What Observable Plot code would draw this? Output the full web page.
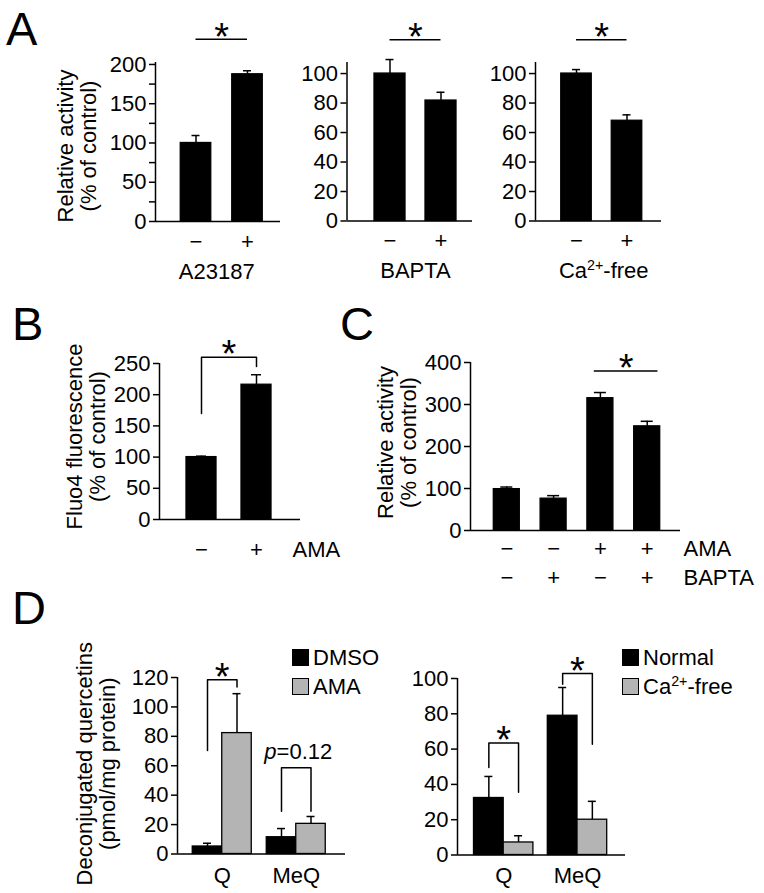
<!DOCTYPE html>
<html><head><meta charset="utf-8">
<script src="https://cdn.jsdelivr.net/npm/d3@7"></script>
<script src="https://cdn.jsdelivr.net/npm/@observablehq/plot@0.6"></script>
<style>
body{margin:0;background:#fff}
#fig{position:relative;width:764px;height:893px;background:#fff;font-family:"Liberation Sans",Arial,Helvetica,sans-serif;color:#000;overflow:hidden}
.letter{position:absolute;font-size:47px;line-height:1}
.leg{position:absolute;font-size:22px;line-height:1;display:flex;align-items:center;white-space:nowrap;height:17px}
.sw{width:17px;height:17px;box-sizing:border-box;border:1.4px solid #000;margin-right:4px;flex:none}
sup{font-size:65%;vertical-align:0.55em;line-height:0}
</style></head><body><div id="fig"></div>
<script>
// ---------------- data ----------------
const GRAY = "#b4b4b4";
// Panel A
const aTitles = ["A23187", "BAPTA", "Ca2+-free"];
const aSigns = ["−", "+"];
const aMeans = [[100, 187.5], [100, 81.7], [100, 68]];
const aSE = [[9.5, 4.5], [9.5, 5.6], [2.7, 4]];
const aSigY = [232, 123, 123];
const aTicks = [[0, 25, 50, 75, 100, 125, 150, 175, 200], [0, 20, 40, 60, 80, 100], [0, 20, 40, 60, 80, 100]];
const aYMax = [202.5, 107.5, 107.5];
// Panel B
const bSigns = ["−", "+"];
const bMeans = [100, 216];
const bSE = [1.5, 16];
const bBracket = {left: 170, top: 260, right: 245};
const bTicks = [0, 50, 100, 150, 200, 250];
// Panel C
const cAMA = ["−", "−", "+", "+"];
const cBAPTA = ["−", "+", "−", "+"];
const cMeans = [98.5, 75.8, 315, 248];
const cSE = [5, 7.2, 13.5, 12];
const cSig = {from: 1.87, to: 3.23, y: 380};
const cTicks = [0, 100, 200, 300, 400];
// Panel D
const dGroups = ["Q", "MeQ"];
const dLeftSeries = ["DMSO", "AMA"];
const dLeftMeans = [[5.1, 82.2], [11.4, 20.5]];
const dLeftSE = [[2.2, 26.8], [5.9, 5]];
const dLeftBrackets = [
  {group: 0, top: 118.5, left: 70.4, right: 113.5, label: "*"},
  {group: 1, top: 58.6, left: 29, right: 29, label: "p=0.12"}
];
const dLeftTicks = [0, 20, 40, 60, 80, 100, 120];
const dRightSeries = ["Normal", "Ca2+-free"];
const dRightMeans = [[32.3, 7.1], [78.9, 20]];
const dRightSE = [[12.2, 3.8], [16, 10.4]];
const dRightBrackets = [
  {group: 0, top: 63.4, left: 49.6, right: 35.5, label: "*"},
  {group: 1, top: 102.8, left: 96.8, right: 62.8, label: "*"}
];
const dRightTicks = [0, 20, 40, 60, 80, 100];

// ---------------- helpers ----------------
const FONT = '"Liberation Sans", Arial, Helvetica, sans-serif';
const fig = document.getElementById("fig");
const SW = 1.5;

function layout(box, frame, n, insetL, insetR) {
  const [bl, bt, br, bb] = box, [fl, ft, fr, fb] = frame;
  const step = (fr - fl - insetL - insetR) / (n - 1);
  return {
    width: br - bl, height: bb - bt,
    marginLeft: fl - bl, marginRight: br - fr, marginTop: ft - bt, marginBottom: bb - fb,
    xDomain: [-insetL / step, n - 1 + insetR / step], step
  };
}

function richText(svg) {
  d3.select(svg).selectAll("text").each(function () {
    const t = d3.select(this);
    const s = this.textContent;
    if (s === "Ca2+-free") {
      t.text(null);
      t.append("tspan").text("Ca");
      t.append("tspan").attr("baseline-shift", "super").attr("font-size", "65%").text("2+");
      t.append("tspan").text("-free");
    } else if (s === "p=0.12") {
      t.text(null);
      t.append("tspan").attr("font-style", "italic").text("p");
      t.append("tspan").text("=0.12");
    }
  });
}

function barMarks(rows, L, barPx, capPx) {
  const hw = barPx / 2 / L.step, cw = capPx / 2 / L.step;
  return [
    Plot.rect(rows, {x1: d => d.x - hw, x2: d => d.x + hw, y1: 0, y2: "mean", fill: "fill", stroke: "black", strokeWidth: 1.3}),
    Plot.ruleX(rows, {x: "x", y1: "mean", y2: d => d.mean + d.se, stroke: "black", strokeWidth: SW}),
    Plot.ruleY(rows, {y: d => d.mean + d.se, x1: d => d.x - cw, x2: d => d.x + cw, stroke: "black", strokeWidth: SW})
  ];
}

function bracketPoints(list) {
  return list.flatMap((b, i) => [
    {id: i, x: b.x1, y: b.left}, {id: i, x: b.x1, y: b.top},
    {id: i, x: b.x2, y: b.top}, {id: i, x: b.x2, y: b.right}
  ]);
}

function yLabel(text, dx, dy) {
  return Plot.text([text], {frameAnchor: "left", dx, dy, rotate: -90, textAnchor: "middle", lineAnchor: "middle", lineHeight: 1.05});
}

function star(rows, opts) {
  return Plot.text(rows, {text: () => "*", fontSize: 38, lineAnchor: "middle", dy: -2, ...opts});
}

function panel(cfg) {
  const L = layout(cfg.box, cfg.frame, cfg.n, cfg.insetL, cfg.insetR);
  const svg = Plot.plot({
    width: L.width, height: L.height,
    marginLeft: L.marginLeft, marginRight: L.marginRight, marginTop: L.marginTop, marginBottom: L.marginBottom,
    x: {domain: L.xDomain, axis: null},
    y: {domain: [0, cfg.yMax], axis: null},
    color: {type: "identity"},
    style: {background: "transparent", fontFamily: FONT, fontSize: "22px", color: "black", overflow: "visible"},
    marks: [
      ...cfg.marks(L),
      Plot.axisY({ticks: cfg.ticks, tickFormat: cfg.tickFormat || (d => String(d)), tickSize: 6, tickPadding: 3, strokeWidth: SW, label: null}),
      Plot.ruleX([L.xDomain[0]], {strokeWidth: SW}),
      Plot.ruleY([0], {strokeWidth: SW})
    ]
  });
  richText(svg);
  const wrap = document.createElement("div");
  wrap.style.cssText = `position:absolute;left:${cfg.box[0]}px;top:${cfg.box[1]}px;`;
  wrap.appendChild(svg);
  fig.appendChild(wrap);
}

// ---------------- Panel A ----------------
const aLayout = [
  {box: [0, 0, 300, 300], frame: [155, 62, 280, 221], insetL: 40.5, insetR: 33, barPx: 30.5, titleDx: -5},
  {box: [300, 0, 490, 300], frame: [346.5, 62, 472, 220.5], insetL: 43, insetR: 31.5, barPx: 31, titleDx: 0},
  {box: [490, 0, 764, 300], frame: [535, 62, 661, 220.5], insetL: 41, insetR: 34.5, barPx: 30.5, titleDx: 2}
];
aTitles.forEach((title, p) => {
  const lay = aLayout[p];
  const rows = aSigns.map((s, i) => ({x: i, mean: aMeans[p][i], se: aSE[p][i], fill: "black"}));
  panel({
    ...lay, n: 2, yMax: aYMax[p], ticks: aTicks[p],
    tickFormat: p === 0 ? (d => d % 50 === 0 ? String(d) : "") : null,
    marks: L => [
      ...barMarks(rows, L, lay.barPx, 8),
      Plot.ruleY([aSigY[p]], {y: d => d, x1: 0, x2: 1, strokeWidth: SW}),
      star([aSigY[p]], {x: 0.5, y: d => d}),
      Plot.text(aSigns, {x: (d, i) => i, text: d => d, frameAnchor: "bottom", dy: 20, lineAnchor: "middle"}),
      Plot.text([title], {x: 0.5, text: d => d, frameAnchor: "bottom", dy: 50, dx: lay.titleDx, lineAnchor: "middle"}),
      ...(p === 0 ? [yLabel("Relative activity\n(% of control)", -78, 4)] : [])
    ]
  });
});

// ---------------- Panel B ----------------
{
  const rows = bSigns.map((s, i) => ({x: i, mean: bMeans[i], se: bSE[i], fill: "black"}));
  panel({
    box: [0, 300, 370, 600], frame: [159, 363, 300, 519], n: 2, insetL: 42, insetR: 44,
    yMax: 250, ticks: bTicks,
    marks: L => [
      ...barMarks(rows, L, 30, 10),
      Plot.line(bracketPoints([{x1: 0, x2: 1, ...bBracket}]), {x: "x", y: "y", z: "id", stroke: "black", strokeWidth: SW}),
      star([bBracket], {x: 0.5, y: "top"}),
      Plot.text(bSigns, {x: (d, i) => i, text: d => d, frameAnchor: "bottom", dy: 30, lineAnchor: "middle"}),
      Plot.text(["AMA"], {frameAnchor: "bottom-right", textAnchor: "start", dx: -8, dy: 30, lineAnchor: "middle"}),
      yLabel("Fluo4 fluorescence\n(% of control)", -73, -5)
    ]
  });
}

// ---------------- Panel C ----------------
{
  const rows = cMeans.map((m, i) => ({x: i, mean: m, se: cSE[i], fill: "black"}));
  panel({
    box: [370, 300, 764, 600], frame: [470, 362, 680, 530], n: 4, insetL: 36.3, insetR: 33.3,
    yMax: 400, ticks: cTicks,
    marks: L => [
      ...barMarks(rows, L, 26, 12),
      Plot.ruleY([cSig], {y: "y", x1: "from", x2: "to", strokeWidth: SW}),
      star([cSig], {x: d => (d.from + d.to) / 2, y: "y"}),
      Plot.text(cAMA, {x: (d, i) => i, text: d => d, frameAnchor: "bottom", dy: 18, lineAnchor: "middle"}),
      Plot.text(cBAPTA, {x: (d, i) => i, text: d => d, frameAnchor: "bottom", dy: 47, lineAnchor: "middle"}),
      Plot.text(["AMA"], {frameAnchor: "bottom-right", textAnchor: "start", dx: 3, dy: 18, lineAnchor: "middle"}),
      Plot.text(["BAPTA"], {frameAnchor: "bottom-right", textAnchor: "start", dx: 3, dy: 47, lineAnchor: "middle"}),
      yLabel("Relative activity\n(% of control)", -73, -4)
    ]
  });
}

// ---------------- Panel D ----------------
function groupedPanel(cfg) {
  panel({
    ...cfg, n: dGroups.length,
    marks: L => {
      const bw = cfg.barPx / L.step;
      const rows = dGroups.flatMap((g, gi) => cfg.series.map((s, si) => ({
        x: gi + (si - 0.5) * bw, mean: cfg.means[gi][si], se: cfg.se[gi][si], fill: si === 0 ? "black" : GRAY
      })));
      const br = cfg.brackets.map(b => ({...b, x1: b.group - bw / 2, x2: b.group + bw / 2}));
      return [
        ...barMarks(rows, L, cfg.barPx, 8),
        Plot.line(bracketPoints(br), {x: "x", y: "y", z: "id", stroke: "black", strokeWidth: SW}),
        star(br.filter(b => b.label === "*"), {x: "group", y: "top"}),
        Plot.text(br.filter(b => b.label !== "*"), {x: "group", y: "top", text: "label", lineAnchor: "bottom", dy: -9, dx: 2}),
        Plot.text(dGroups, {x: (d, i) => i, text: d => d, frameAnchor: "bottom", dy: cfg.catDy, lineAnchor: "middle"}),
        ...(cfg.yLabel ? [yLabel(cfg.yLabel, -81, -2)] : [])
      ];
    }
  });
}
groupedPanel({
  box: [0, 600, 400, 893], frame: [177, 677, 345, 853.5], insetL: 44.75, insetR: 49.25, barPx: 29.5,
  yMax: 120, ticks: dLeftTicks, series: dLeftSeries, means: dLeftMeans, se: dLeftSE, brackets: dLeftBrackets,
  catDy: 21.5, yLabel: "Deconjugated quercetins\n(pmol/mg protein)"
});
groupedPanel({
  box: [400, 600, 764, 893], frame: [457, 678, 625, 854.5], insetL: 46.2, insetR: 48, barPx: 29.7,
  yMax: 100, ticks: dRightTicks, series: dRightSeries, means: dRightMeans, se: dRightSE, brackets: dRightBrackets,
  catDy: 20.5, yLabel: null
});

// ---------------- legends & panel letters ----------------
function legend(series, left, tops) {
  series.forEach((s, i) => {
    const el = document.createElement("div");
    el.className = "leg";
    el.style.left = left + "px";
    el.style.top = tops[i] + "px";
    const sw = document.createElement("div");
    sw.className = "sw";
    sw.style.background = i === 0 ? "#000" : GRAY;
    const tx = document.createElement("span");
    tx.innerHTML = s.replace("2+", "<sup>2+</sup>");
    el.appendChild(sw);
    el.appendChild(tx);
    fig.appendChild(el);
  });
}
legend(dLeftSeries, 292, [649, 678]);
legend(dRightSeries, 622, [649, 678]);

const letters = [["A", 6, 5], ["B", 12, 300], ["C", 340, 300], ["D", 12, 584]];
letters.forEach(([t, x, y]) => {
  const el = document.createElement("div");
  el.className = "letter";
  el.textContent = t;
  el.style.left = x + "px";
  el.style.top = y + "px";
  fig.appendChild(el);
});
</script></body></html>
